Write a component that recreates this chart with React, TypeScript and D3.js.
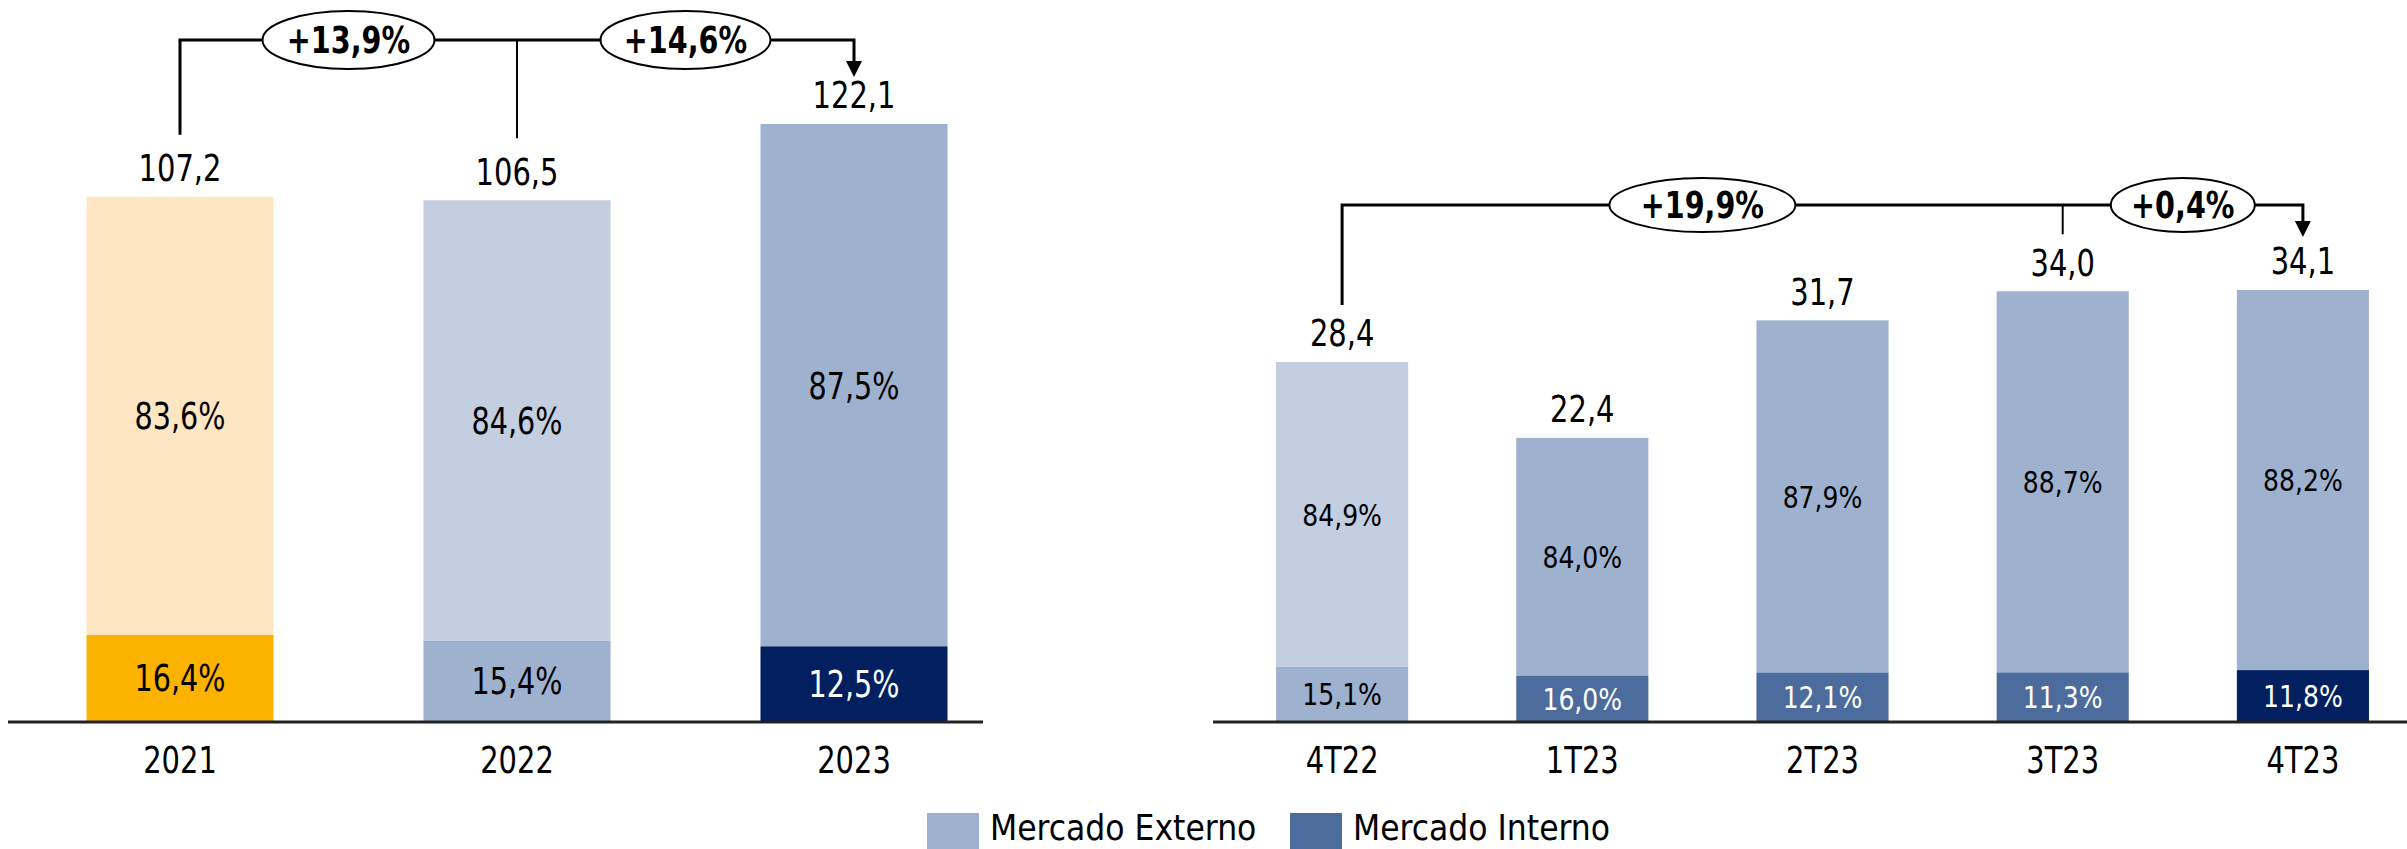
import React from "react";
import * as d3 from "d3";

// ---------- data ----------
const yearCats = ["2021", "2022", "2023"];
const yearTotals = [107.2, 106.5, 122.1];
const yearExterno = [83.6, 84.6, 87.5];
const yearInterno = [16.4, 15.4, 12.5];
const yearGrowth = ["+13,9%", "+14,6%"];

const qCats = ["4T22", "1T23", "2T23", "3T23", "4T23"];
const qTotals = [28.4, 22.4, 31.7, 34.0, 34.1];
const qExterno = [84.9, 84.0, 87.9, 88.7, 88.2];
const qInterno = [15.1, 16.0, 12.1, 11.3, 11.8];
const qGrowth = ["+19,9%", "+0,4%"];

const legendItems = ["Mercado Externo", "Mercado Interno"];

// ---------- styles ----------
const W = 2407;
const H = 849;
const FONT = "'DejaVu Sans Condensed', 'DejaVu Sans', sans-serif";
const C = {
  peach: "#FEE6C3",
  amber: "#FBB300",
  pale: "#C3CEE1",
  mid: "#9EB1CF",
  steel: "#4B6C9C",
  navy: "#022060",
};
const yearColors: Record<string, [string, string]> = {
  "2021": [C.peach, C.amber],
  "2022": [C.pale, C.mid],
  "2023": [C.mid, C.navy],
};
const qColors: Record<string, [string, string]> = {
  "4T22": [C.pale, C.mid],
  "1T23": [C.mid, C.steel],
  "2T23": [C.mid, C.steel],
  "3T23": [C.mid, C.steel],
  "4T23": [C.mid, C.navy],
};
const lightText = new Set([C.navy, C.steel]);
const fmt = (v: number) => v.toFixed(1).replace(".", ",");

function T(props: {
  x: number;
  y: number;
  size: number;
  sx?: number;
  fill?: string;
  bold?: boolean;
  children: React.ReactNode;
}) {
  const sx = props.sx ?? 0.87;
  return (
    <text
      transform={`translate(${props.x},${props.y}) scale(${sx},1)`}
      dy="0.36em"
      textAnchor="middle"
      fontSize={props.size}
      fontWeight={props.bold ? "bold" : "normal"}
      fill={props.fill ?? "#000"}
    >
      {props.children}
    </text>
  );
}

type PanelProps = {
  cats: string[];
  totals: number[];
  ext: number[];
  int: number[];
  growth: string[];
  colors: Record<string, [string, string]>;
  x: d3.ScaleBand<string>;
  y: d3.ScaleLinear<number, number>;
  axis: [number, number];
  innerFont: number;
  innerSx: number;
  bracketY: number;
  dropGap: number;
  arrowGap: number;
  ell: { rx: number; ry: number }[];
};

function Panel(p: PanelProps) {
  const base = p.y(0);
  const bw = p.x.bandwidth();
  const cx = (c: string) => (p.x(c) as number) + bw / 2;
  const n = p.cats.length;
  const xf = cx(p.cats[0]);
  const xp = cx(p.cats[n - 2]);
  const xl = cx(p.cats[n - 1]);
  const by = p.bracketY;
  const arrowTip = p.y(p.totals[n - 1]) - p.arrowGap;
  const mids = [(xf + xp) / 2, (xp + xl) / 2];
  return (
    <g>
      {p.cats.map((c, i) => {
        const total = p.totals[i];
        const intVal = (total * p.int[i]) / 100;
        const yTop = p.y(total);
        const ySplit = p.y(intVal);
        const [topCol, botCol] = p.colors[c];
        return (
          <g key={c}>
            <rect x={p.x(c)} y={yTop} width={bw} height={ySplit - yTop} fill={topCol} />
            <rect x={p.x(c)} y={ySplit} width={bw} height={base - ySplit} fill={botCol} />
            <T x={cx(c)} y={(yTop + ySplit) / 2} size={p.innerFont} sx={p.innerSx}>
              {fmt(p.ext[i]) + "%"}
            </T>
            <T
              x={cx(c)}
              y={(ySplit + base) / 2}
              size={p.innerFont}
              sx={p.innerSx}
              fill={lightText.has(botCol) ? "#fff" : "#000"}
            >
              {fmt(p.int[i]) + "%"}
            </T>
            <T x={cx(c)} y={yTop - 29} size={37}>
              {fmt(total)}
            </T>
            <T x={cx(c)} y={base + 39} size={37}>
              {c}
            </T>
          </g>
        );
      })}
      <line x1={p.axis[0]} x2={p.axis[1]} y1={base + 1} y2={base + 1} stroke="#222" strokeWidth={3} />
      <path
        d={`M${xf},${p.y(p.totals[0]) - p.dropGap}V${by}H${xl}V${arrowTip - 15}`}
        fill="none"
        stroke="#000"
        strokeWidth={3}
      />
      <path d={`M${xl - 8},${arrowTip - 16}L${xl + 8},${arrowTip - 16}L${xl},${arrowTip}Z`} fill="#000" />
      <line
        x1={xp}
        x2={xp}
        y1={by}
        y2={p.y(p.totals[n - 2]) - p.dropGap}
        stroke="#000"
        strokeWidth={2}
      />
      {p.growth.map((g, i) => (
        <g key={g}>
          <ellipse cx={mids[i]} cy={by} rx={p.ell[i].rx} ry={p.ell[i].ry} fill="#fff" stroke="#000" strokeWidth={2} />
          <T x={mids[i]} y={by} size={37} sx={0.86} bold>
            {g}
          </T>
        </g>
      ))}
    </g>
  );
}

export default function App() {
  const xYear = d3.scaleBand<string>().domain(yearCats).range([11.5, 1022.5]).paddingInner(0.445).paddingOuter(0.2225);
  const yYear = d3.scaleLinear().domain([0, 122.1]).range([721, 124]);
  const xQ = d3.scaleBand<string>().domain(qCats).range([1222, 2423]).paddingInner(0.45).paddingOuter(0.225);
  const yQ = d3.scaleLinear().domain([0, 34.1]).range([721, 290]);
  const legendColors = [C.mid, C.steel];
  const legendX = [927, 1290];

  return (
    <svg width={W} height={H} style={{ position: "absolute", left: 0, top: 0, fontFamily: FONT }}>
      <rect width={W} height={H} fill="#fff" />
      <Panel
        cats={yearCats}
        totals={yearTotals}
        ext={yearExterno}
        int={yearInterno}
        growth={yearGrowth}
        colors={yearColors}
        x={xYear}
        y={yYear}
        axis={[8, 983]}
        innerFont={37}
        innerSx={0.86}
        bracketY={40}
        dropGap={62}
        arrowGap={47}
        ell={[
          { rx: 86, ry: 29 },
          { rx: 85, ry: 29 },
        ]}
      />
      <Panel
        cats={qCats}
        totals={qTotals}
        ext={qExterno}
        int={qInterno}
        growth={qGrowth}
        colors={qColors}
        x={xQ}
        y={yQ}
        axis={[1213, 2407]}
        innerFont={31}
        innerSx={0.9}
        bracketY={205}
        dropGap={57}
        arrowGap={53}
        ell={[
          { rx: 93, ry: 27 },
          { rx: 72, ry: 27 },
        ]}
      />
      {legendItems.map((l, i) => (
        <g key={l}>
          <rect x={legendX[i]} y={813} width={52} height={52} fill={legendColors[i]} />
          <text x={legendX[i] + 63} y={840} fontSize={35}>
            {l}
          </text>
        </g>
      ))}
    </svg>
  );
}
